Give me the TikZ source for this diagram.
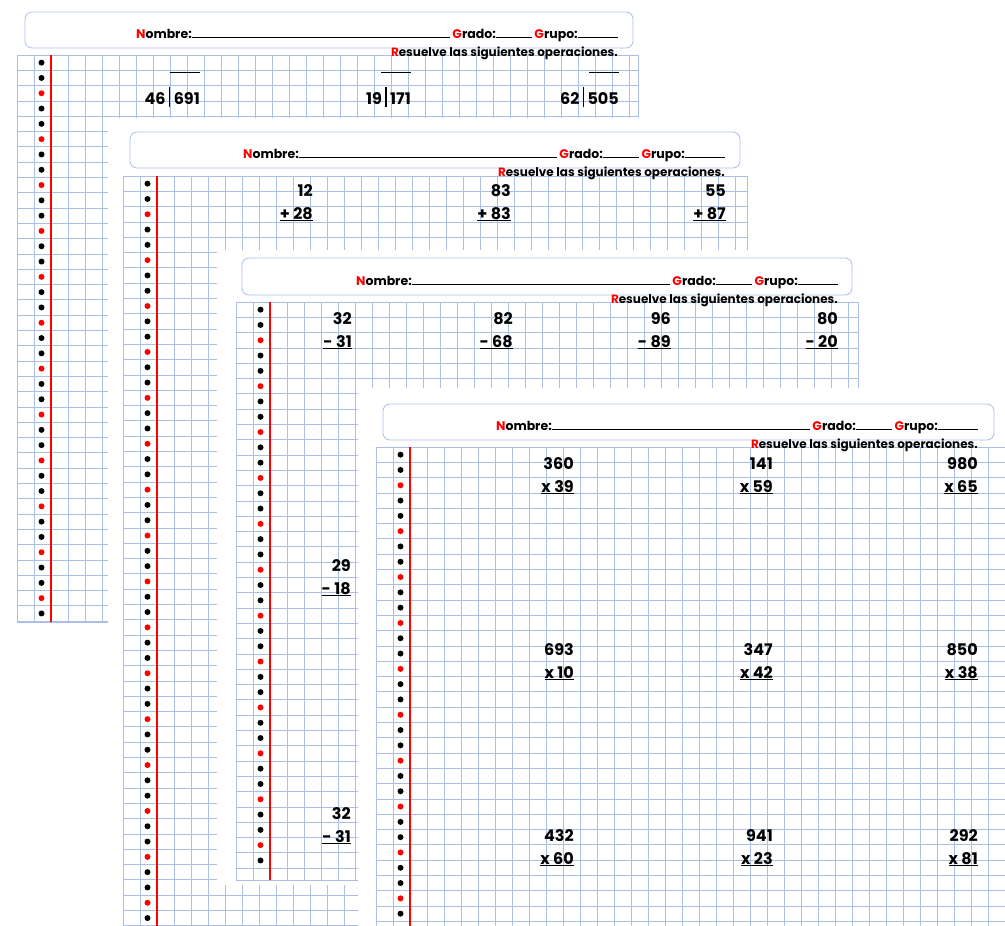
\documentclass[tikz,border=0pt]{standalone}
\usepackage{fontspec}
\setmainfont{Poppins}
\begin{document}
\begin{tikzpicture}[x=1pt,y=-1pt,
  gl/.style={draw={rgb,255:red,170;green,190;blue,230},line width=0.8pt},
  hbox/.style={draw={rgb,255:red,170;green,190;blue,230},line width=0.8pt,rounded corners=7pt,fill=white},
  num/.style={anchor=base east,font=\fontsize{16}{16}\selectfont\bfseries,inner sep=0pt},
  hd/.style={anchor=base east,font=\fontsize{12.5}{13}\selectfont\bfseries,inner sep=0pt},
  rs/.style={anchor=base east,font=\fontsize{12}{13}\selectfont\bfseries,inner sep=0pt}]
\useasboundingbox (0,0) rectangle (1005,926);
\fill[white] (0,0) rectangle (1005,926);
\newcommand\sheet[4]{%
  \pgfmathsetmacro\nr{floor((#4-#2)/15.3)}
  \pgfmathsetmacro\nc{floor((#3-#1)/17)}
  \foreach \i in {0,...,\nr} \draw[gl] ({#1},{#2+\i*15.3}) -- ({#3},{#2+\i*15.3});
  \draw[gl] (#1,#4) -- (#3,#4);
  \foreach \j in {0,...,\nc} \draw[gl] ({#1+\j*17},{#2}) -- ({#1+\j*17},{#4});
  \draw[gl] (#3,#2) -- (#3,#4);
  \pgfmathsetmacro\nd{\nr-1}
  \foreach \i in {0,...,\nd}{%
    \pgfmathsetmacro\m{mod(\i,3)}
    \ifdim\m pt=2pt \fill[red] ({#1+24.5},{#2+(\i+0.5)*15.3}) circle (3);
    \else \fill[black] ({#1+24.5},{#2+(\i+0.5)*15.3}) circle (3);\fi}
  \draw[red,line width=1.4pt] ({#1+34},{#2}) -- ({#1+34},{#4});
}
\newcommand\hdr[5]{% x1 y1 x2 y2 textright
  \draw[hbox] (#1,#2) rectangle (#3,#4);
  \node[hd] at (#5,{#4-10}) {\textcolor{red}{N}ombre:\rule{258pt}{0.7pt} \textcolor{red}{G}rado:\rule{36pt}{0.7pt} \textcolor{red}{G}rupo:\rule{40pt}{0.7pt}};
  \node[rs] at (#5,{#4+8.5}) {\textcolor{red}{R}esuelve las siguientes operaciones.};
}
\newcommand\opr[5]{% xright ytop a sign b
  \node[num] at (#1,#2) {#3};
  \node[num] at (#1,{#2+23}) {\underline{#4 #5}};
}
% page 1
\sheet{17}{55}{638}{622}
\hdr{25}{12}{633}{48}{618}
\foreach \r/\a/\b in {200/46/691, 411/19/171, 619/62/505}{
  \node[num] (d\a) at (\r,104) {\a\ \rule[-3pt]{1.4pt}{20pt}\ \b};
  \draw[line width=1pt] ({\r-30},72) -- (\r,72);
}
% page 2
\fill[white] (108,118) rectangle (760,926);
\sheet{123}{176}{747}{926}
\hdr{130}{132}{740}{168}{725}
\opr{313}{196}{12}{+}{28}
\opr{511}{196}{83}{+}{83}
\opr{726}{196}{55}{+}{87}
% page 3
\fill[white] (217,250) rectangle (870,885);
\sheet{236}{302}{858}{880}
\hdr{242}{258}{852}{295}{838}
\opr{352}{324}{32}{-}{31}
\opr{513}{324}{82}{-}{68}
\opr{671}{324}{96}{-}{89}
\opr{838}{324}{80}{-}{20}
\opr{351}{571}{29}{-}{18}
\opr{351}{819}{32}{-}{31}
% page 4
\fill[white] (358,388) rectangle (1005,926);
\sheet{376}{447}{1005}{926}
\hdr{383}{404}{994}{440}{978}
\opr{574}{469}{360}{x}{39}
\opr{773}{469}{141}{x}{59}
\opr{978}{469}{980}{x}{65}
\opr{574}{655}{693}{x}{10}
\opr{773}{655}{347}{x}{42}
\opr{978}{655}{850}{x}{38}
\opr{574}{841}{432}{x}{60}
\opr{773}{841}{941}{x}{23}
\opr{978}{841}{292}{x}{81}
\end{tikzpicture}
\end{document}
